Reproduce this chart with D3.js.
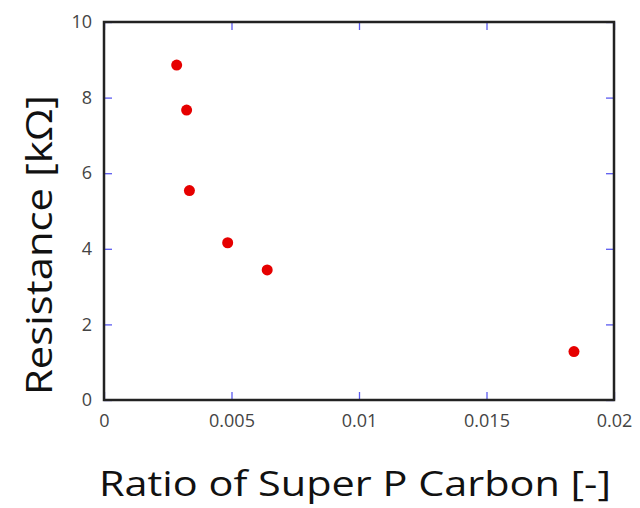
<!DOCTYPE html>
<html>
<head>
<meta charset="utf-8">
<script src="https://cdn.jsdelivr.net/npm/d3@7"></script>
<style>
  body { margin: 0; background: #fff; }
  svg { display: block; }
</style>
</head>
<body>
<script>
// data
let carbonRatio = [0.00285, 0.00324, 0.00335, 0.00485, 0.0064, 0.01843];
let resistance = [8.86, 7.67, 5.54, 4.16, 3.44, 1.28];
let xTicks = [0, 0.005, 0.01, 0.015, 0.02];
let yTicks = [0, 2, 4, 6, 8, 10];

let svgWidth = 640;
let svgHeight = 508;
let margin = { top: 22, right: 26, bottom: 108, left: 104 };
let chartWidth = svgWidth - margin.left - margin.right;
let chartHeight = svgHeight - margin.top - margin.bottom;

let svg = d3.select('body')
  .append('svg')
  .attr('width', svgWidth)
  .attr('height', svgHeight);

let chartGroup = svg.append('g')
  .attr('transform', `translate(${margin.left}, ${margin.top})`);

let xScale = d3.scaleLinear().domain([0, 0.02]).range([0, chartWidth]);
let yScale = d3.scaleLinear().domain([0, 10]).range([chartHeight, 0]);

let fmtX = d => d === 0 ? '0' : String(+d.toFixed(3));

// blue inward ticks on all four sides
let tickLen = 8;
let tickColor = '#5b5bf0';
let axisSpecs = [
  { axis: d3.axisBottom(xScale).tickValues(xTicks).tickSize(-tickLen).tickFormat(fmtX), y: chartHeight, x: 0 },
  { axis: d3.axisTop(xScale).tickValues(xTicks).tickSize(-tickLen).tickFormat(''), y: 0, x: 0 },
  { axis: d3.axisLeft(yScale).tickValues(yTicks).tickSize(-tickLen).tickFormat(d3.format('d')), y: 0, x: 0 },
  { axis: d3.axisRight(yScale).tickValues(yTicks).tickSize(-tickLen).tickFormat(''), y: 0, x: chartWidth }
];
axisSpecs.forEach(s => {
  let g = chartGroup.append('g')
    .attr('transform', `translate(${s.x}, ${s.y})`)
    .call(s.axis);
  g.select('.domain').remove();
  g.selectAll('.tick line').attr('stroke', tickColor).attr('stroke-width', 1.3);
  g.selectAll('.tick text')
    .style('font-family', '"Open Sans", sans-serif')
    .style('font-size', '18px')
    .attr('fill', '#444');
});
// push tick labels out a bit
chartGroup.selectAll('g .tick text').each(function() {
  let t = d3.select(this);
  if (t.attr('x') !== null && +t.attr('x') < 0) t.attr('x', -12);
  if (t.attr('y') !== null && +t.attr('y') > 0) t.attr('y', 14);
});

// frame
chartGroup.append('rect')
  .attr('x', 0).attr('y', 0)
  .attr('width', chartWidth).attr('height', chartHeight)
  .attr('fill', 'none')
  .attr('stroke', '#222')
  .attr('stroke-width', 2.5);

// points
chartGroup.selectAll('circle')
  .data(carbonRatio)
  .enter()
  .append('circle')
  .attr('cx', (d, i) => xScale(d))
  .attr('cy', (d, i) => yScale(resistance[i]))
  .attr('r', 5.5)
  .attr('fill', '#e60000');

// axis titles
svg.append('text')
  .attr('x', 355).attr('y', 496)
  .attr('text-anchor', 'middle')
  .attr('textLength', 512)
  .attr('lengthAdjust', 'spacingAndGlyphs')
  .style('font-family', '"Open Sans", sans-serif')
  .style('font-size', '35px')
  .attr('fill', '#111')
  .text('Ratio of Super P Carbon [-]');

svg.append('text')
  .attr('transform', 'translate(52, 245) rotate(-90)')
  .attr('text-anchor', 'middle')
  .attr('textLength', 300)
  .attr('lengthAdjust', 'spacingAndGlyphs')
  .style('font-family', '"Open Sans", sans-serif')
  .style('font-size', '36px')
  .attr('fill', '#111')
  .text('Resistance [kΩ]');
</script>
</body>
</html>
